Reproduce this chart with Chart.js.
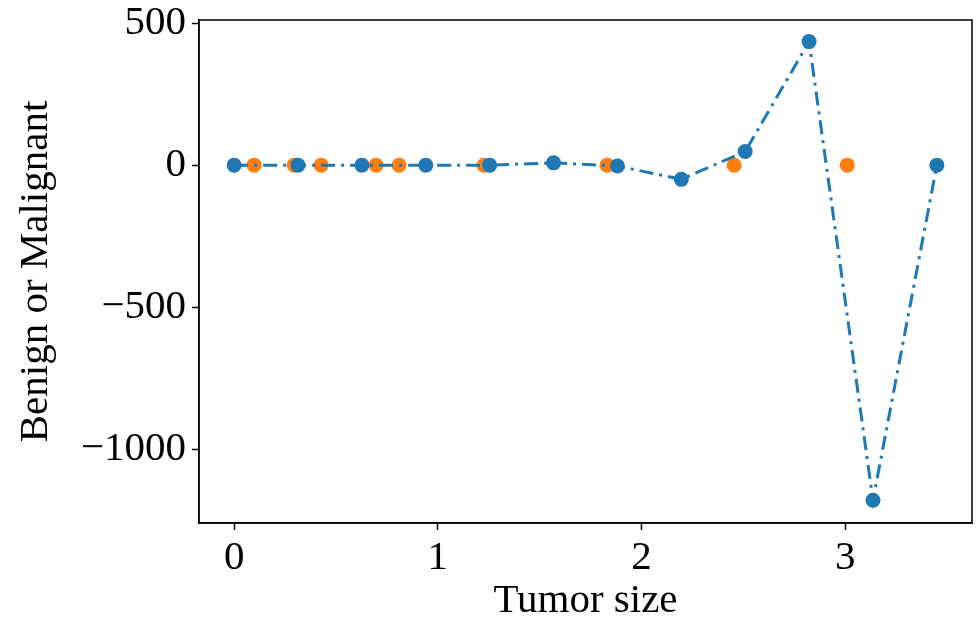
<!DOCTYPE html>
<html>
<head>
<meta charset="utf-8">
<script src="https://cdn.jsdelivr.net/npm/chart.js@4"></script>
<style>
html,body{margin:0;padding:0;background:#fff;}
#wrap{width:980px;height:626px;position:relative;}
</style>
</head>
<body>
<div id="wrap"><canvas id="c" width="980" height="626"></canvas></div>
<script>
// Fitted curve (blue, dash-dot with markers)
const curveX = [0, 0.3136, 0.6273, 0.9409, 1.2545, 1.5682, 1.8818, 2.1955, 2.5091, 2.8227, 3.1364, 3.45];
const curveY = [0, 0, 0, 0, 0, 8, -3, -50, 48, 435, -1180, 0];
// Observed samples (orange)
const sampleX = [0.098, 0.295, 0.427, 0.697, 0.81, 1.227, 1.831, 2.455, 3.01];
const sampleY = [0, 0, 0, 0, 0, 0, 0, 0, 0];
// Axis ticks and labels
const xTicks = [0, 1, 2, 3];
const yTicks = [-1000, -500, 0, 500];
const xTitle = 'Tumor size';
const yTitle = 'Benign or Malignant';

const FONT = "'Liberation Serif', 'Times New Roman', serif";
const toPts = (xs, ys) => xs.map((x, i) => ({x: x, y: ys[i]}));

const frame = {
  id: 'frame',
  afterDatasetsDraw(chart) {
    const a = chart.chartArea, ctx = chart.ctx;
    ctx.save();
    ctx.strokeStyle = '#000';
    ctx.lineWidth = 1.5;
    ctx.strokeRect(a.left, a.top, a.right - a.left, a.bottom - a.top);
    ctx.restore();
  }
};

new Chart(document.getElementById('c'), {
  type: 'scatter',
  data: {
    datasets: [
      {
        data: toPts(curveX, curveY),
        showLine: true,
        borderColor: '#1f77b4',
        backgroundColor: '#1f77b4',
        borderWidth: 3,
        borderDash: [14, 6, 3, 6],
        pointRadius: 7.5,
        pointBorderWidth: 0,
        pointBackgroundColor: '#1f77b4',
        tension: 0
      },
      {
        data: toPts(sampleX, sampleY),
        showLine: false,
        borderColor: '#ff7f0e',
        backgroundColor: '#ff7f0e',
        pointRadius: 7.5,
        pointBorderWidth: 0,
        pointBackgroundColor: '#ff7f0e'
      }
    ]
  },
  options: {
    responsive: false,
    animation: false,
    devicePixelRatio: 1,
    layout: {padding: {left: 12, top: 20, right: 8, bottom: 0}},
    plugins: {legend: {display: false}, tooltip: {enabled: false}},
    scales: {
      x: {
        type: 'linear',
        min: -0.1725,
        max: 3.6225,
        afterBuildTicks: s => { s.ticks = xTicks.map(v => ({value: v})); },
        afterFit: s => { s.height = 103; s.paddingLeft = 0; s.paddingRight = 0; },
        grid: {drawOnChartArea: false, drawTicks: true, tickLength: 7, color: '#000', tickWidth: 1.5},
        border: {display: true, color: '#000', width: 1.5},
        ticks: {
          color: '#000', padding: 4, maxRotation: 0,
          font: {family: FONT, size: 41},
          callback: v => String(v)
        },
        title: {display: true, text: xTitle, color: '#000', font: {family: FONT, size: 41}, padding: {top: 0, bottom: 0}}
      },
      y: {
        type: 'linear',
        min: -1260,
        max: 511,
        afterBuildTicks: s => { s.ticks = yTicks.map(v => ({value: v})); },
        afterFit: s => { s.width = 187; s.paddingTop = 0; s.paddingBottom = 0; },
        grid: {drawOnChartArea: false, drawTicks: true, tickLength: 7, color: '#000', tickWidth: 1.5},
        border: {display: true, color: '#000', width: 1.5},
        ticks: {
          color: '#000', padding: 6,
          font: {family: FONT, size: 41},
          callback: v => (v < 0 ? '\u2212' + Math.abs(v) : String(v))
        },
        title: {display: true, text: yTitle, color: '#000', font: {family: FONT, size: 41}, padding: {top: 0, bottom: 8}}
      }
    }
  },
  plugins: [frame]
});
</script>
</body>
</html>
